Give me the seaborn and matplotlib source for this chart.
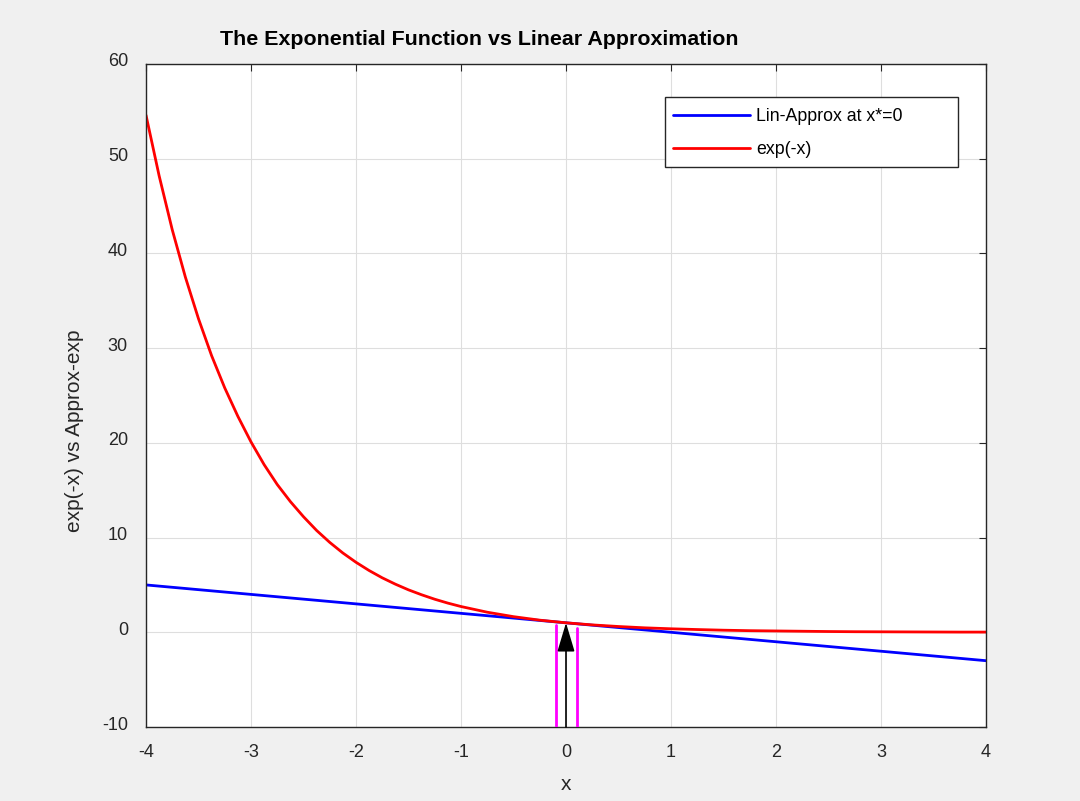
import numpy as np
import pandas as pd
import matplotlib
matplotlib.use("Agg")
import matplotlib.pyplot as plt
import matplotlib.transforms as mtrans
from matplotlib.patches import Rectangle
import seaborn as sns

# Values
x_exp = [-4.0, -3.875, -3.75, -3.625, -3.5, -3.375, -3.25, -3.125, -3.0, -2.875, -2.75, -2.625,
         -2.5, -2.375, -2.25, -2.125, -2.0, -1.875, -1.75, -1.625, -1.5, -1.375, -1.25, -1.125,
         -1.0, -0.75, -0.5, -0.25, 0.0, 0.25, 0.5, 0.75, 1.0, 1.25, 1.5, 1.75, 2.0, 2.25, 2.5,
         2.75, 3.0, 3.25, 3.5, 3.75, 4.0]
y_exp = [54.6, 48.2, 42.5, 37.5, 33.1, 29.2, 25.8, 22.8, 20.1, 17.7, 15.6, 13.8,
         12.2, 10.75, 9.49, 8.37, 7.39, 6.52, 5.75, 5.08, 4.48, 3.96, 3.49, 3.08,
         2.72, 2.12, 1.65, 1.28, 1.0, 0.78, 0.61, 0.47, 0.37, 0.29, 0.22, 0.17, 0.14, 0.11, 0.08,
         0.06, 0.05, 0.04, 0.03, 0.02, 0.02]
x_lin = [-4.0, 4.0]
y_lin = [5.0, -3.0]
marker_x = [-0.1, 0.1]
marker_top = [0.8, 0.4]
arrow_x = 0.0
arrow_from = -10.0
arrow_to = 1.0
xticks = [-4, -3, -2, -1, 0, 1, 2, 3, 4]
yticks = [-10, 0, 10, 20, 30, 40, 50, 60]

sns.set_theme(style="white")
plt.rcParams['font.family'] = ['Liberation Sans', 'DejaVu Sans']

W, H = 1080, 801
fig = plt.figure(figsize=(10.8, 8.01), dpi=100, facecolor='#f0f0f0')
ax = fig.add_axes([146/W, 1-727/H, 840/W, 663/H])
ax.set_facecolor('white')

df_lin = pd.DataFrame({'x': x_lin, 'y': y_lin})
df_exp = pd.DataFrame({'x': x_exp, 'y': y_exp})
sns.lineplot(data=df_lin, x='x', y='y', ax=ax, color='#0000ff', lw=2, label='Lin-Approx at x*=0')
sns.lineplot(data=df_exp, x='x', y='y', ax=ax, color='#ff0000', lw=2, label='exp(-x)')

for mx, mt in zip(marker_x, marker_top):
    ax.plot([mx, mx], [arrow_from, mt], color='#ff00ff', lw=2, zorder=3)
ax.annotate('', xy=(arrow_x, arrow_to), xytext=(arrow_x, arrow_from),
            arrowprops=dict(arrowstyle='-|>,head_length=1.5,head_width=0.45', color='black',
                            lw=1.2, shrinkA=0, shrinkB=0), zorder=4)

ax.set_xlim(-4, 4)
ax.set_ylim(-10, 60)
ax.set_xticks(xticks)
ax.set_yticks(yticks)
ax.set_xticklabels([str(t) for t in xticks])
ax.set_yticklabels([str(t) for t in yticks])
ax.grid(True, color='#dedede', lw=0.8)
ax.tick_params(direction='in', length=5, width=0.8, colors='#262626', labelsize=13,
               top=True, right=True)
ax.tick_params(axis='y', pad=13)
ax.tick_params(axis='x', pad=12)
shift_up = mtrans.ScaledTranslation(0, 4/100, fig.dpi_scale_trans)
for lab in ax.get_yticklabels():
    lab.set_transform(lab.get_transform() + shift_up)
for s in ax.spines.values():
    s.set_color('#262626')
    s.set_linewidth(1.0)
    s.set_visible(True)

ax.set_xlabel('x', fontsize=15, color='#262626', labelpad=10)
ax.set_ylabel('exp(-x) vs Approx-exp', fontsize=15, color='#262626', labelpad=13)
ax.yaxis.label.set_y((727 - 431) / 663)
ax.set_title('The Exponential Function vs Linear Approximation', fontsize=15.4,
             fontweight='bold', color='black', x=0.397, pad=14)

# legend box placement (pixels of the reference)
lx0, lx1, ly0, ly1 = 665, 958, 97, 167
fx = lambda px: (px - 146) / 840
fy = lambda py: (727 - py) / 663
leg = ax.legend(loc='upper left', bbox_to_anchor=(fx(lx0), fy(ly0 + 3)), frameon=False,
                fontsize=12.8, handlelength=4.33, borderpad=0.45,
                labelspacing=0.9, handletextpad=0.34, borderaxespad=0)
leg.set_zorder(6)
for t in leg.get_texts():
    t.set_color('black')
box = Rectangle((fx(lx0), fy(ly1)), fx(lx1) - fx(lx0), fy(ly0) - fy(ly1),
                transform=ax.transAxes, facecolor='white', edgecolor='#262626',
                lw=1.0, zorder=5)
ax.add_patch(box)

fig.savefig('out.png', dpi=100, facecolor=fig.get_facecolor())
